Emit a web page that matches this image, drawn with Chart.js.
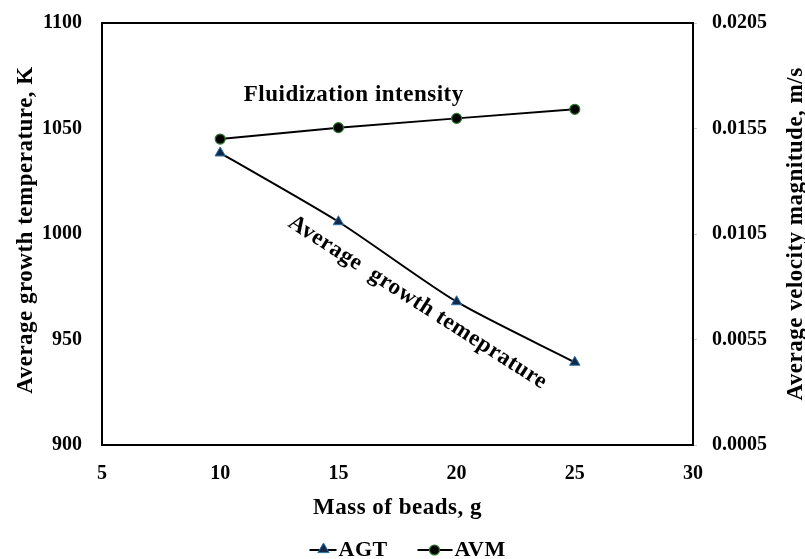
<!DOCTYPE html>
<html>
<head>
<meta charset="utf-8">
<script src="https://cdn.jsdelivr.net/npm/chart.js@4.4.0/dist/chart.umd.min.js"></script>
<style>
  html, body { margin: 0; padding: 0; background: #fff; }
  #wrap { width: 805px; height: 559px; }
</style>
</head>
<body>
<div id="wrap"><canvas id="lineChart" width="805" height="559"></canvas></div>
<script>
// values
var massOfBeads = [10, 15, 20, 25];
var agtValues = [1038.4, 1005.8, 967.9, 939.2];
var avmValues = [0.0150, 0.01554, 0.01598, 0.01641];
var leftTicks = [900, 950, 1000, 1050, 1100];
var rightTicks = [0.0005, 0.0055, 0.0105, 0.0155, 0.0205];
var xTicks = [5, 10, 15, 20, 25, 30];
var seriesNames = ['AGT', 'AVM'];

var serif = "'Liberation Serif', 'Times New Roman', serif";
var triFill = '#13294b', triEdge = '#2f74a6';
var dotFill = '#000', dotEdge = '#2a7a2a';

function drawTri(g, x, y, r) {
  g.fillStyle = triFill; g.strokeStyle = triEdge; g.lineWidth = 1;
  g.beginPath(); g.moveTo(x, y - r); g.lineTo(x + r * 0.95, y + r * 0.6); g.lineTo(x - r * 0.95, y + r * 0.6); g.closePath();
  g.fill(); g.stroke();
}
function drawDot(g, x, y, r) {
  g.fillStyle = dotFill; g.strokeStyle = dotEdge; g.lineWidth = 1.2;
  g.beginPath(); g.arc(x, y, r, 0, Math.PI * 2); g.fill(); g.stroke();
}

// y axes: fixed width, and no extra room above/below for their labels
function sideFit(w) {
  return function(s) { s.width = w; s.paddingTop = 0; s.paddingBottom = 0; };
}

// box, axis titles, inline labels and the legend
var extras = {
  id: 'extras',
  afterDatasetsDraw: function(chart) {
    var ctx = chart.ctx;
    var a = chart.chartArea;
    var xs = chart.scales.x, ys = chart.scales.y;
    var midX = (a.left + a.right) / 2, midY = (a.top + a.bottom) / 2;
    ctx.save();
    ctx.strokeStyle = '#000';
    ctx.lineWidth = 2;
    ctx.strokeRect(a.left, a.top, a.right - a.left, a.bottom - a.top);

    ctx.fillStyle = '#000';
    ctx.font = 'bold 23px ' + serif;
    ctx.letterSpacing = '0.5px';
    ctx.textAlign = 'center';
    ctx.textBaseline = 'alphabetic';

    // axis titles
    ctx.fillText('Mass of beads, g', midX, a.bottom + 69);
    ctx.save();
    ctx.translate(32, midY - 4);
    ctx.rotate(-Math.PI / 2);
    ctx.fillText('Average growth temperature, K', 0, 0);
    ctx.restore();
    ctx.save();
    ctx.translate(802, midY);
    ctx.rotate(-Math.PI / 2);
    ctx.fillText('Average velocity magnitude, m/s', 0, 0);
    ctx.restore();

    // labels beside the curves
    ctx.textBaseline = 'middle';
    ctx.fillText('Fluidization intensity', xs.getPixelForValue(15.65), ys.getPixelForValue(1066));
    ctx.save();
    ctx.translate(xs.getPixelForValue(18.35), ys.getPixelForValue(967.5));
    ctx.rotate(32.7 * Math.PI / 180);
    ctx.fillText('Average  growth temeprature', 0, 0);
    ctx.restore();

    // legend
    ctx.textAlign = 'left';
    ctx.textBaseline = 'alphabetic';
    ctx.font = 'bold 22px ' + serif;
    var base = chart.height - 3;
    var ly = base - 6;
    var x0 = midX - 88;
    ctx.strokeStyle = '#000'; ctx.lineWidth = 2;
    ctx.beginPath(); ctx.moveTo(x0, ly); ctx.lineTo(x0 + 27, ly); ctx.stroke();
    drawTri(ctx, x0 + 14, ly - 1, 6);
    ctx.fillStyle = '#000';
    ctx.fillText(seriesNames[0], x0 + 29, base);
    var x1 = x0 + 108;
    ctx.strokeStyle = '#000'; ctx.lineWidth = 2;
    ctx.beginPath(); ctx.moveTo(x1, ly); ctx.lineTo(x1 + 35, ly); ctx.stroke();
    drawDot(ctx, x1 + 17, ly, 5);
    ctx.fillStyle = '#000';
    ctx.fillText(seriesNames[1], x1 + 37, base);
    ctx.restore();
  }
};

var data = {
  datasets: [{
    label: seriesNames[0],
    data: massOfBeads.map(function(m, i) { return { x: m, y: agtValues[i] }; }),
    yAxisID: 'y',
    borderColor: '#000',
    borderWidth: 2,
    tension: 0.25,
    pointStyle: 'triangle',
    pointRadius: 6,
    pointBackgroundColor: triFill,
    pointBorderColor: triEdge,
    pointBorderWidth: 1,
    fill: false
  }, {
    label: seriesNames[1],
    data: massOfBeads.map(function(m, i) { return { x: m, y: avmValues[i] }; }),
    yAxisID: 'y1',
    borderColor: '#000',
    borderWidth: 2,
    tension: 0,
    pointStyle: 'circle',
    pointRadius: 5,
    pointBackgroundColor: dotFill,
    pointBorderColor: dotEdge,
    pointBorderWidth: 1.2,
    fill: false
  }]
};

var tickFont = { family: serif, size: 20, weight: 'bold' };

var config = {
  type: 'line',
  data: data,
  plugins: [extras],
  options: {
    responsive: false,
    animation: false,
    layout: { padding: { top: 23, bottom: 0 } },
    plugins: {
      tooltip: { enabled: false },
      legend: { display: false }
    },
    scales: {
      x: {
        type: 'linear',
        min: 5, max: 30,
        afterBuildTicks: function(s) { s.ticks = xTicks.map(function(v) { return { value: v }; }); },
        afterFit: function(s) { s.height = 114; },
        grid: { display: false },
        border: { display: false },
        ticks: { color: '#000', font: tickFont, padding: 9 }
      },
      y: {
        position: 'left',
        min: 900, max: 1100,
        afterBuildTicks: function(s) { s.ticks = leftTicks.map(function(v) { return { value: v }; }); },
        afterFit: sideFit(102),
        grid: { display: false },
        border: { display: false },
        ticks: { color: '#000', font: tickFont, padding: 12, callback: function(v) { return String(v); } }
      },
      y1: {
        position: 'right',
        min: 0.0005, max: 0.0205,
        afterBuildTicks: function(s) { s.ticks = rightTicks.map(function(v) { return { value: v }; }); },
        afterFit: sideFit(112),
        grid: { display: true, drawOnChartArea: false, color: '#c8c8c8', tickLength: 4 },
        border: { display: false },
        ticks: {
          color: '#000', font: tickFont, padding: 15,
          callback: function(v) { return v.toFixed(4); }
        }
      }
    }
  }
};

var ctx = document.getElementById('lineChart').getContext('2d');
var myChart = new Chart(ctx, config);
</script>
</body>
</html>
